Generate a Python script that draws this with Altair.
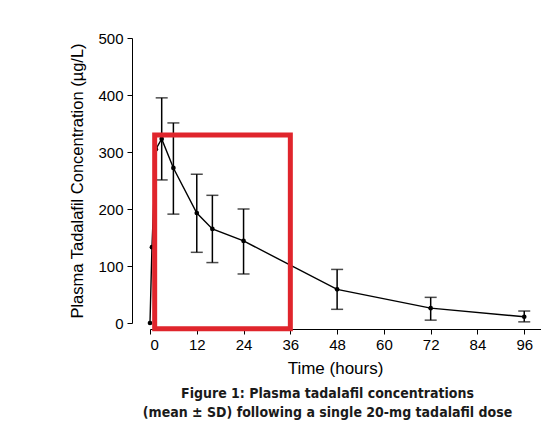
import altair as alt
import pandas as pd

# mean concentration curve
time_h = [0, 0.5, 1.5, 3, 6, 12, 16, 24, 48, 72, 96]
mean_conc = [0, 133, 305, 323, 272, 193, 165, 144, 59, 26, 11]

# mean ± SD error bars
sd_time = [3, 6, 12, 16, 24, 48, 72, 96]
sd_low = [251, 191, 124, 106, 86, 24, 5, 2]
sd_high = [395, 351, 261, 224, 200, 94, 45, 21]

# red annotation box (data units)
box_x = [1.2, 36]
box_y = [-10, 330]

x_ticks = [0, 12, 24, 36, 48, 60, 72, 84, 96]
y_ticks = [0, 100, 200, 300, 400, 500]

curve = pd.DataFrame({"t": time_h, "c": mean_conc})
bars = pd.DataFrame({"t": sd_time, "lo": sd_low, "hi": sd_high})
box = pd.DataFrame({"x0": [box_x[0]], "x1": [box_x[1]], "y0": [box_y[0]], "y1": [box_y[1]]})

FONT = "Liberation Sans, Arial, sans-serif"
CAP_FONT = "DejaVu Sans Condensed, Liberation Sans Narrow, Liberation Sans, sans-serif"

xs = alt.Scale(domain=[0, 100.3], nice=False, zero=False)
ys = alt.Scale(domain=[0, 500], nice=False)

x_axis = alt.Axis(values=x_ticks, title="Time (hours)", offset=6, grid=False,
                  tickSize=5, labelFontSize=15, titleFontSize=17, titleFontWeight="normal",
                  labelFont=FONT, titleFont=FONT, domainColor="black", tickColor="black",
                  labelColor="black", titleColor="black", titlePadding=8, labelPadding=3,
                  titleX=185)
y_axis = alt.Axis(values=y_ticks, title="Plasma Tadalafil Concentration (µg/L)", offset=18,
                  grid=False, tickSize=5, labelFontSize=15, titleFontSize=16.5,
                  titleFontWeight="normal", labelFont=FONT, titleFont=FONT,
                  domainColor="black", tickColor="black", labelColor="black",
                  titleColor="black", titlePadding=12, labelPadding=4)

line = alt.Chart(curve).mark_line(color="black", strokeWidth=1.4).encode(
    x=alt.X("t:Q", scale=xs, axis=x_axis),
    y=alt.Y("c:Q", scale=ys, axis=y_axis),
)
pts = alt.Chart(curve).mark_circle(color="black", size=22, opacity=1).encode(
    x=alt.X("t:Q", scale=xs), y=alt.Y("c:Q", scale=ys)
)
rule = alt.Chart(bars).mark_rule(color="black", strokeWidth=1.5).encode(
    x=alt.X("t:Q", scale=xs), y=alt.Y("lo:Q", scale=ys), y2="hi:Q"
)
cap_lo = alt.Chart(bars).mark_tick(color="black", orient="horizontal", size=12, thickness=1.5).encode(
    x=alt.X("t:Q", scale=xs), y=alt.Y("lo:Q", scale=ys)
)
cap_hi = alt.Chart(bars).mark_tick(color="black", orient="horizontal", size=12, thickness=1.5).encode(
    x=alt.X("t:Q", scale=xs), y=alt.Y("hi:Q", scale=ys)
)
rect = alt.Chart(box).mark_rect(fill=None, fillOpacity=0, stroke="#e0252c", strokeWidth=5).encode(
    x=alt.X("x0:Q", scale=xs), x2="x1:Q", y=alt.Y("y0:Q", scale=ys), y2="y1:Q"
)

chart = alt.layer(line, rule, cap_lo, cap_hi, pts, rect).properties(
    width=391, height=285,
    autosize=alt.AutoSizeParams(type="none"),
    padding={"left": 142, "top": 30, "right": 0, "bottom": 100},
    title=alt.TitleParams(
        ["Figure 1: Plasma tadalafil concentrations", "(mean  ±  SD) following a single 20-mg tadalafil dose"],
        orient="bottom", anchor="middle", font=CAP_FONT, fontSize=14,
        fontWeight="bold", color="#1a1a1a", offset=11, lineHeight=19, dx=-18,
    ),
).configure(background="white").configure_view(strokeWidth=0)

chart.save("out.html", embed_options={"renderer": "svg", "actions": False})
